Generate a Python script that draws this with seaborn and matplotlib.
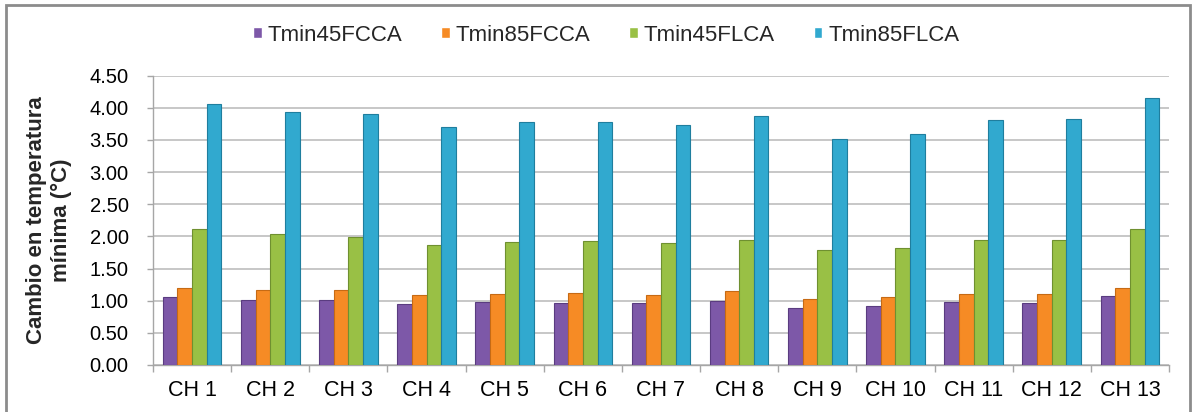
import matplotlib
matplotlib.use("Agg")
import matplotlib.pyplot as plt
import matplotlib.patches as mpatches
import seaborn as sns
import pandas as pd
import numpy as np

categories = ["CH 1", "CH 2", "CH 3", "CH 4", "CH 5", "CH 6", "CH 7",
              "CH 8", "CH 9", "CH 10", "CH 11", "CH 12", "CH 13"]
tmin45fcca = [1.05, 1.01, 1.01, 0.95, 0.98, 0.96, 0.96, 0.99, 0.88, 0.92, 0.98, 0.96, 1.07]
tmin85fcca = [1.20, 1.17, 1.17, 1.09, 1.10, 1.12, 1.09, 1.15, 1.02, 1.05, 1.10, 1.10, 1.20]
tmin45flca = [2.11, 2.04, 1.99, 1.86, 1.91, 1.93, 1.89, 1.95, 1.79, 1.82, 1.94, 1.95, 2.11]
tmin85flca = [4.06, 3.94, 3.90, 3.70, 3.78, 3.78, 3.74, 3.88, 3.51, 3.60, 3.81, 3.83, 4.16]
series_names = ["Tmin45FCCA", "Tmin85FCCA", "Tmin45FLCA", "Tmin85FLCA"]
y_ticks = [0.0, 0.5, 1.0, 1.5, 2.0, 2.5, 3.0, 3.5, 4.0, 4.5]
y_label = "Cambio en temperatura\nmínima (°C)"

colors = ["#7D58A8", "#F68B25", "#99C045", "#31A9CF"]
edges = ["#5A3C80", "#C66A14", "#6F9030", "#1F7E9E"]

rows = []
for name, vals in zip(series_names, [tmin45fcca, tmin85fcca, tmin45flca, tmin85flca]):
    for c, v in zip(categories, vals):
        rows.append({"cat": c, "serie": name, "valor": v})
df = pd.DataFrame(rows)

sns.set_theme(style="white")
plt.rcParams["font.family"] = ["Liberation Sans", "DejaVu Sans"]

fig = plt.figure(figsize=(11.93, 4.12), dpi=100)
ax = fig.add_axes([153/1193, 1-365/412, (1169-153)/1193, (365-75.7)/412])

sns.barplot(data=df, x="cat", y="valor", hue="serie", order=categories,
            hue_order=series_names, palette=colors, saturation=1, width=0.75,
            gap=0, errorbar=None, ax=ax, legend=True, zorder=3)

for i, cont in enumerate(ax.containers):
    for bar in cont:
        bar.set_edgecolor(edges[i])
        bar.set_linewidth(0.8)

ax.set_ylim(0, 4.5)
ax.set_xlim(-0.5, len(categories) - 0.5)
ax.set_yticks(y_ticks)
ax.set_yticklabels([f"{t:.2f}" for t in y_ticks])
ax.yaxis.grid(True, color="#BDBDBD", linewidth=1.2, zorder=0)
ax.set_axisbelow(True)
ax.set_xlabel("")
ax.set_ylabel(y_label, fontsize=16, fontweight="bold", linespacing=1.2)
ax.yaxis.set_label_coords(-0.080, 0.5)

for s in ["top", "right"]:
    ax.spines[s].set_visible(False)
for s in ["left", "bottom"]:
    ax.spines[s].set_color("#A6A6A6")
    ax.spines[s].set_linewidth(1.0)

ax.tick_params(axis="y", which="major", left=True, length=4.5, width=1,
               color="#A6A6A6", pad=13, labelsize=14.5, labelcolor="black")
ax.tick_params(axis="x", which="major", bottom=False, length=0, pad=11,
               labelsize=15.5, labelcolor="black")
ax.set_xticks(np.arange(-0.5, len(categories), 1.0), minor=True)
ax.tick_params(axis="x", which="minor", bottom=True, length=4.8, width=1,
               color="#A6A6A6")

handles, labels = ax.get_legend_handles_labels()
ax.get_legend().remove()
fig.legend(handles, labels, loc="center", bbox_to_anchor=(0.508, 0.915),
           ncol=4, frameon=False, fontsize=16, handlelength=0.4,
           handleheight=0.4, handletextpad=0.25, columnspacing=1.75)

border = mpatches.Rectangle((6/1193, -0.02), (1190-6)/1193, 1.02 - 5/412,
                            transform=fig.transFigure, fill=False,
                            edgecolor="#8C8C8C", linewidth=2.0, zorder=10)
fig.patches.append(border)

fig.savefig("out.png", dpi=100, facecolor="white")
